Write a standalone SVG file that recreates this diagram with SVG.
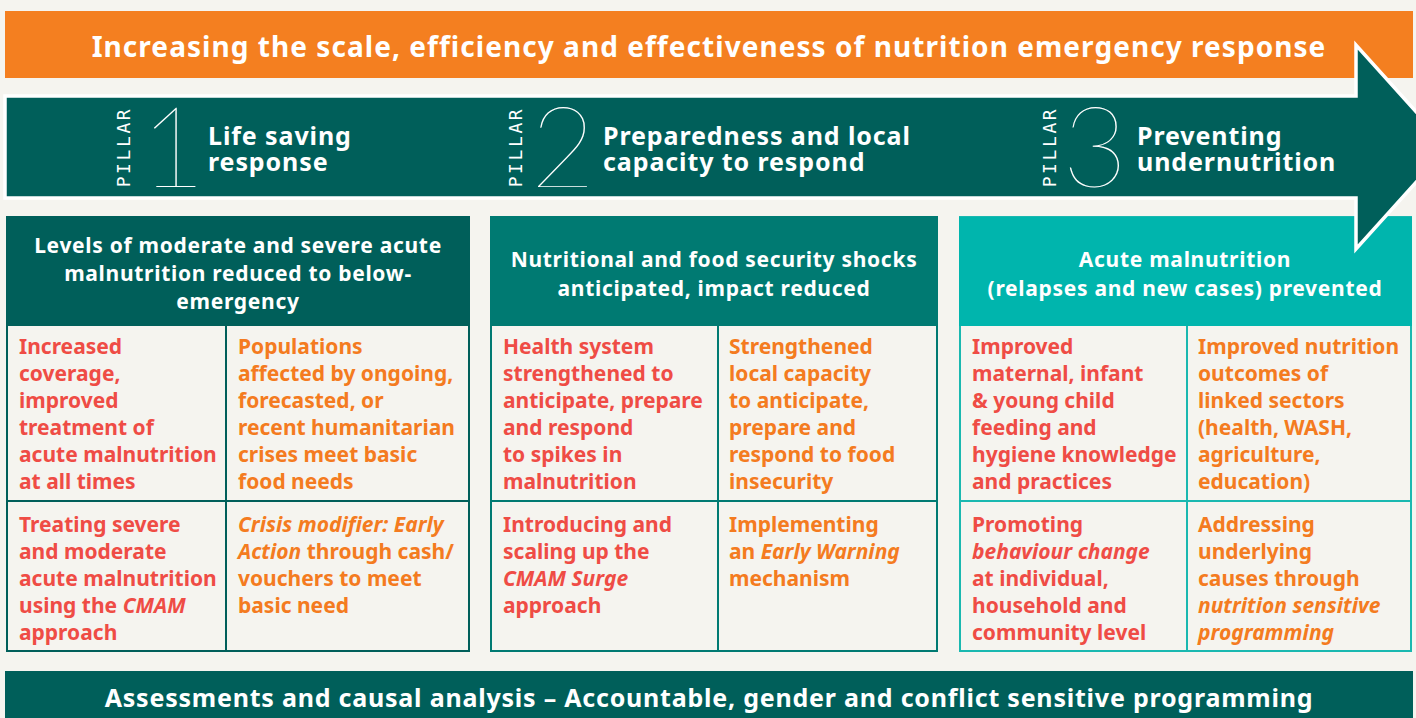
<svg xmlns="http://www.w3.org/2000/svg" width="1416" height="718" viewBox="0 0 1416 718">
<style>
.bg{fill:#f5f4ef}
.wt{font-family:"Noto Sans","Liberation Sans",sans-serif;font-weight:700;fill:#ffffff}
.ptitle{font-size:25px;letter-spacing:0.9px}
.hd{font-size:21px;letter-spacing:0.7px;text-anchor:middle}
.pl{font-family:"DejaVu Sans Mono","Liberation Mono",monospace;font-size:18px;letter-spacing:2.6px;fill:#ffffff;text-anchor:middle}
.num{font-family:Lato,"Inter",sans-serif;font-weight:200;font-size:112px;fill:#ffffff;text-anchor:middle}
.ct{font-family:"Noto Sans","Liberation Sans",sans-serif;font-weight:700;font-size:21px}
.red{fill:#ef4c45}
.org{fill:#f47b20}
.cell{fill:#f5f4ef;stroke-width:2}
.i{font-style:italic}
</style>
<rect class="bg" x="0" y="0" width="1416" height="718"/>

<g id="top-banner">
<rect x="5" y="11" width="1408" height="67" fill="#f47f20"/>
<text class="wt" x="709" y="57" font-size="28" letter-spacing="1.05" text-anchor="middle">Increasing the scale, efficiency and effectiveness of nutrition emergency response</text>
</g>

<g id="column-1">
<rect class="cell" x="7" y="217" width="462" height="434" stroke="#005f5a"/>
<rect x="6" y="217" width="464" height="109" fill="#005f5a"/>
<line x1="226" y1="326" x2="226" y2="651" stroke="#005f5a" stroke-width="2"/>
<line x1="7" y1="501" x2="469" y2="501" stroke="#005f5a" stroke-width="2"/>
<text class="wt hd"><tspan x="238" y="253">Levels of moderate and severe acute</tspan><tspan x="238" y="281">malnutrition reduced to below-</tspan><tspan x="238" y="309">emergency</tspan></text>
<text class="ct red"><tspan x="19" y="354">Increased</tspan><tspan x="19" y="381">coverage,</tspan><tspan x="19" y="408">improved</tspan><tspan x="19" y="435">treatment of</tspan><tspan x="19" y="462">acute malnutrition</tspan><tspan x="19" y="489">at all times</tspan></text>
<text class="ct org"><tspan x="238" y="354">Populations</tspan><tspan x="238" y="381">affected by ongoing,</tspan><tspan x="238" y="408">forecasted, or</tspan><tspan x="238" y="435">recent humanitarian</tspan><tspan x="238" y="462">crises meet basic</tspan><tspan x="238" y="489">food needs</tspan></text>
<text class="ct red"><tspan x="19" y="532">Treating severe</tspan><tspan x="19" y="559">and moderate</tspan><tspan x="19" y="586">acute malnutrition</tspan><tspan x="19" y="613">using the <tspan class="i">CMAM</tspan></tspan><tspan x="19" y="640">approach</tspan></text>
<text class="ct org"><tspan x="238" y="532" class="i">Crisis modifier: Early</tspan><tspan x="238" y="559"><tspan class="i">Action</tspan> through cash/</tspan><tspan x="238" y="586">vouchers to meet</tspan><tspan x="238" y="613">basic need</tspan></text>
</g>

<g id="column-2">
<rect class="cell" x="491" y="217" width="446" height="434" stroke="#007a72"/>
<rect x="490" y="217" width="448" height="109" fill="#007a72"/>
<line x1="718" y1="326" x2="718" y2="651" stroke="#007a72" stroke-width="2"/>
<line x1="491" y1="501" x2="937" y2="501" stroke="#007a72" stroke-width="2"/>
<text class="wt hd"><tspan x="714" y="267">Nutritional and food security shocks</tspan><tspan x="714" y="296">anticipated, impact reduced</tspan></text>
<text class="ct red"><tspan x="503" y="354">Health system</tspan><tspan x="503" y="381">strengthened to</tspan><tspan x="503" y="408">anticipate, prepare</tspan><tspan x="503" y="435">and respond</tspan><tspan x="503" y="462">to spikes in</tspan><tspan x="503" y="489">malnutrition</tspan></text>
<text class="ct org"><tspan x="729" y="354">Strengthened</tspan><tspan x="729" y="381">local capacity</tspan><tspan x="729" y="408">to anticipate,</tspan><tspan x="729" y="435">prepare and</tspan><tspan x="729" y="462">respond to food</tspan><tspan x="729" y="489">insecurity</tspan></text>
<text class="ct red"><tspan x="503" y="532">Introducing and</tspan><tspan x="503" y="559">scaling up the</tspan><tspan x="503" y="586" class="i">CMAM Surge</tspan><tspan x="503" y="613">approach</tspan></text>
<text class="ct org"><tspan x="729" y="532">Implementing</tspan><tspan x="729" y="559">an <tspan class="i">Early Warning</tspan></tspan><tspan x="729" y="586">mechanism</tspan></text>
</g>

<g id="column-3">
<rect class="cell" x="960" y="217" width="451" height="434" stroke="#1ab8b0"/>
<rect x="959" y="217" width="453" height="109" fill="#00b5ad"/>
<line x1="1187" y1="326" x2="1187" y2="651" stroke="#1ab8b0" stroke-width="2"/>
<line x1="960" y1="501" x2="1411" y2="501" stroke="#1ab8b0" stroke-width="2"/>
<text class="wt hd"><tspan x="1185" y="267">Acute malnutrition</tspan><tspan x="1185" y="296">(relapses and new cases) prevented</tspan></text>
<text class="ct red"><tspan x="972" y="354">Improved</tspan><tspan x="972" y="381">maternal, infant</tspan><tspan x="972" y="408">&amp; young child</tspan><tspan x="972" y="435">feeding and</tspan><tspan x="972" y="462">hygiene knowledge</tspan><tspan x="972" y="489">and practices</tspan></text>
<text class="ct org"><tspan x="1198" y="354">Improved nutrition</tspan><tspan x="1198" y="381">outcomes of</tspan><tspan x="1198" y="408">linked sectors</tspan><tspan x="1198" y="435">(health, WASH,</tspan><tspan x="1198" y="462">agriculture,</tspan><tspan x="1198" y="489">education)</tspan></text>
<text class="ct red"><tspan x="972" y="532">Promoting</tspan><tspan x="972" y="559" class="i">behaviour change</tspan><tspan x="972" y="586">at individual,</tspan><tspan x="972" y="613">household and</tspan><tspan x="972" y="640">community level</tspan></text>
<text class="ct org"><tspan x="1198" y="532">Addressing</tspan><tspan x="1198" y="559">underlying</tspan><tspan x="1198" y="586">causes through</tspan><tspan x="1198" y="613" class="i">nutrition sensitive</tspan><tspan x="1198" y="640" class="i">programming</tspan></text>
</g>

<g id="pillar-arrow">
<polygon points="5,96 1356,96 1356,45 1448,147 1356,249 1356,198 5,198" fill="#005f5a" stroke="#ffffff" stroke-width="3.5" stroke-linejoin="miter"/>
</g>

<g id="pillar-1">
<text class="pl" transform="translate(130,147) rotate(-90)">PILLAR</text>
<text class="num" x="173" y="187">1</text>
<text class="wt ptitle"><tspan x="208" y="145">Life saving</tspan><tspan x="208" y="171">response</tspan></text>
</g>

<g id="pillar-2">
<text class="pl" transform="translate(522,147) rotate(-90)">PILLAR</text>
<text class="num" x="563" y="187">2</text>
<text class="wt ptitle"><tspan x="603" y="145">Preparedness and local</tspan><tspan x="603" y="171">capacity to respond</tspan></text>
</g>

<g id="pillar-3">
<text class="pl" transform="translate(1056,147) rotate(-90)">PILLAR</text>
<text class="num" x="1095" y="187">3</text>
<text class="wt ptitle"><tspan x="1137" y="145">Preventing</tspan><tspan x="1137" y="171">undernutrition</tspan></text>
</g>

<g id="bottom-banner">
<rect x="5" y="671" width="1408" height="60" fill="#005f5a"/>
<text class="wt" x="709" y="707" font-size="25" letter-spacing="0.78" text-anchor="middle">Assessments and causal analysis – Accountable, gender and conflict sensitive programming</text>
</g>

<g id="connectors"/>
</svg>
